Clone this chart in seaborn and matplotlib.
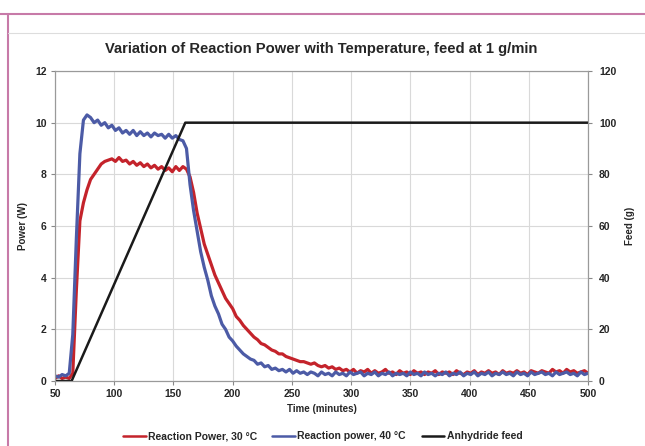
import numpy as np
import pandas as pd
import matplotlib
matplotlib.use("Agg")
import matplotlib.pyplot as plt
from matplotlib.lines import Line2D
import seaborn as sns

# time axis for the two power traces, minutes (one reading every 3 min)
time_min = np.arange(50, 501, 3)

# Reaction power at 30 C (W)
power_30 = [
    0.10, 0.20, 0.10, 0.15, 0.10, 0.30, 3.50, 6.20, 6.90, 7.40,
    7.80, 8.00, 8.20, 8.40, 8.50, 8.55, 8.60, 8.50, 8.65, 8.50,
    8.55, 8.40, 8.50, 8.35, 8.45, 8.30, 8.40, 8.25, 8.35, 8.20,
    8.30, 8.15, 8.25, 8.10, 8.30, 8.15, 8.30, 8.20, 7.90, 7.30,
    6.50, 5.90, 5.30, 4.90, 4.50, 4.10, 3.80, 3.50, 3.20, 3.00,
    2.80, 2.50, 2.35, 2.15, 2.00, 1.85, 1.70, 1.60, 1.45, 1.40,
    1.30, 1.20, 1.15, 1.05, 1.05, 0.95, 0.90, 0.85, 0.80, 0.75,
    0.75, 0.70, 0.65, 0.70, 0.60, 0.55, 0.60, 0.50, 0.55, 0.45,
    0.50, 0.40, 0.45, 0.35, 0.45, 0.30, 0.40, 0.35, 0.45, 0.30,
    0.40, 0.30, 0.35, 0.45, 0.30, 0.35, 0.25, 0.40, 0.30, 0.35,
    0.25, 0.40, 0.30, 0.35, 0.25, 0.35, 0.30, 0.40, 0.25, 0.35,
    0.30, 0.35, 0.25, 0.40, 0.30, 0.25, 0.35, 0.30, 0.40, 0.25,
    0.35, 0.30, 0.40, 0.30, 0.35, 0.25, 0.40, 0.30, 0.35, 0.30,
    0.40, 0.30, 0.35, 0.25, 0.40, 0.35, 0.30, 0.40, 0.35, 0.30,
    0.45, 0.35, 0.40, 0.30, 0.45, 0.35, 0.40, 0.30, 0.35, 0.40,
    0.30,
]

# Reaction power at 40 C (W)
power_40 = [
    0.20, 0.15, 0.25, 0.20, 0.30, 1.80, 5.50, 8.80, 10.10, 10.30,
    10.20, 10.00, 10.10, 9.90, 10.00, 9.80, 9.90, 9.70, 9.80, 9.60,
    9.70, 9.55, 9.70, 9.50, 9.65, 9.50, 9.60, 9.45, 9.60, 9.50,
    9.55, 9.40, 9.55, 9.40, 9.50, 9.35, 9.30, 9.00, 7.60, 6.60,
    5.80, 5.00, 4.40, 3.90, 3.30, 2.90, 2.60, 2.20, 2.00, 1.70,
    1.55, 1.35, 1.20, 1.05, 0.95, 0.85, 0.80, 0.65, 0.70, 0.55,
    0.60, 0.45, 0.50, 0.40, 0.45, 0.35, 0.45, 0.30, 0.40, 0.30,
    0.35, 0.25, 0.35, 0.30, 0.20, 0.35, 0.25, 0.30, 0.20, 0.35,
    0.25, 0.30, 0.20, 0.35, 0.25, 0.30, 0.35, 0.20, 0.30, 0.25,
    0.35, 0.20, 0.30, 0.25, 0.35, 0.20, 0.30, 0.25, 0.30, 0.20,
    0.35, 0.25, 0.30, 0.20, 0.35, 0.25, 0.30, 0.20, 0.30, 0.25,
    0.35, 0.20, 0.30, 0.25, 0.35, 0.20, 0.30, 0.25, 0.35, 0.20,
    0.30, 0.25, 0.35, 0.20, 0.30, 0.25, 0.35, 0.25, 0.30, 0.20,
    0.35, 0.25, 0.30, 0.20, 0.35, 0.25, 0.30, 0.35, 0.25, 0.30,
    0.20, 0.35, 0.25, 0.30, 0.35, 0.25, 0.30, 0.20, 0.35, 0.25,
    0.30,
]

# anhydride feed (g), black line on the right axis
feed_time = [50, 64, 160, 500]
feed_g = [0, 0, 100, 100]

legend_labels = ["Reaction Power, 30 \u00b0C", "Reaction power, 40 \u00b0C", "Anhydride feed"]

red = "#c4232b"
blue = "#4c5ba6"

sns.set_style("white")
plt.rcParams["font.family"] = ["Liberation Sans", "DejaVu Sans"]
plt.rcParams["font.weight"] = "bold"

fig = plt.figure(figsize=(6.45, 4.46), dpi=100)
ax = fig.add_axes([0.0853, 0.1457, 0.8263, 0.6951])

df = pd.DataFrame({"t": time_min, "p30": power_30, "p40": power_40})
sns.lineplot(data=df, x="t", y="p30", ax=ax, color=red, lw=2.3, label=legend_labels[0], legend=False)
sns.lineplot(data=df, x="t", y="p40", ax=ax, color=blue, lw=2.3, label=legend_labels[1], legend=False)

ax.set_xlim(50, 500)
ax.set_ylim(0, 12)
ax.set_xticks(np.arange(50, 501, 50))
ax.set_yticks(np.arange(0, 13, 2))
ax.grid(True, color="#d9d9d9", lw=0.8)
ax.set_axisbelow(True)
ax.set_xlabel("Time (minutes)", fontsize=7, fontweight="bold", labelpad=3)
ax.set_ylabel("Power (W)", fontsize=7, fontweight="bold", labelpad=5)
ax.tick_params(axis="both", labelsize=7.5, length=3, color="#888888", direction="out", pad=3)
ax.tick_params(axis="both", which="both", bottom=True, left=True)
for s in ax.spines.values():
    s.set_color("#9a9a9a")
    s.set_linewidth(0.8)

ax2 = ax.twinx()
sns.lineplot(x=feed_time, y=feed_g, ax=ax2, color="#1a1a1a", lw=1.8, label=legend_labels[2], legend=False)
ax2.set_ylim(0, 120)
ax2.set_yticks(np.arange(0, 121, 20))
ax2.set_ylabel("Feed (g)", fontsize=7, fontweight="bold", labelpad=6)
ax2.tick_params(axis="y", labelsize=7.5, length=3, color="#888888", direction="out", pad=5)
ax2.grid(False)
for s in ax2.spines.values():
    s.set_color("#9a9a9a")
    s.set_linewidth(0.8)

ax.set_title("Variation of Reaction Power with Temperature, feed at 1 g/min",
             fontsize=10.6, fontweight="bold", pad=13)

handles = [Line2D([], [], color=red, lw=1.8), Line2D([], [], color=blue, lw=1.8),
           Line2D([], [], color="#1a1a1a", lw=1.8)]
fig.legend(handles, legend_labels, loc="center", bbox_to_anchor=(0.50, 0.022), ncol=3,
           frameon=False, fontsize=7.5, handlelength=2.2, handletextpad=0.2, columnspacing=1.5)

# frame of the scanned page
fig.add_artist(Line2D([0.0, 1.0], [0.968, 0.968], color="#c77aa8", lw=1.5))
fig.add_artist(Line2D([0.013, 0.013], [0.0, 0.968], color="#c77aa8", lw=1.5))
fig.add_artist(Line2D([0.013, 1.0], [0.925, 0.925], color="#dddddd", lw=0.8))

fig.savefig("out.png", dpi=100, facecolor="white")
